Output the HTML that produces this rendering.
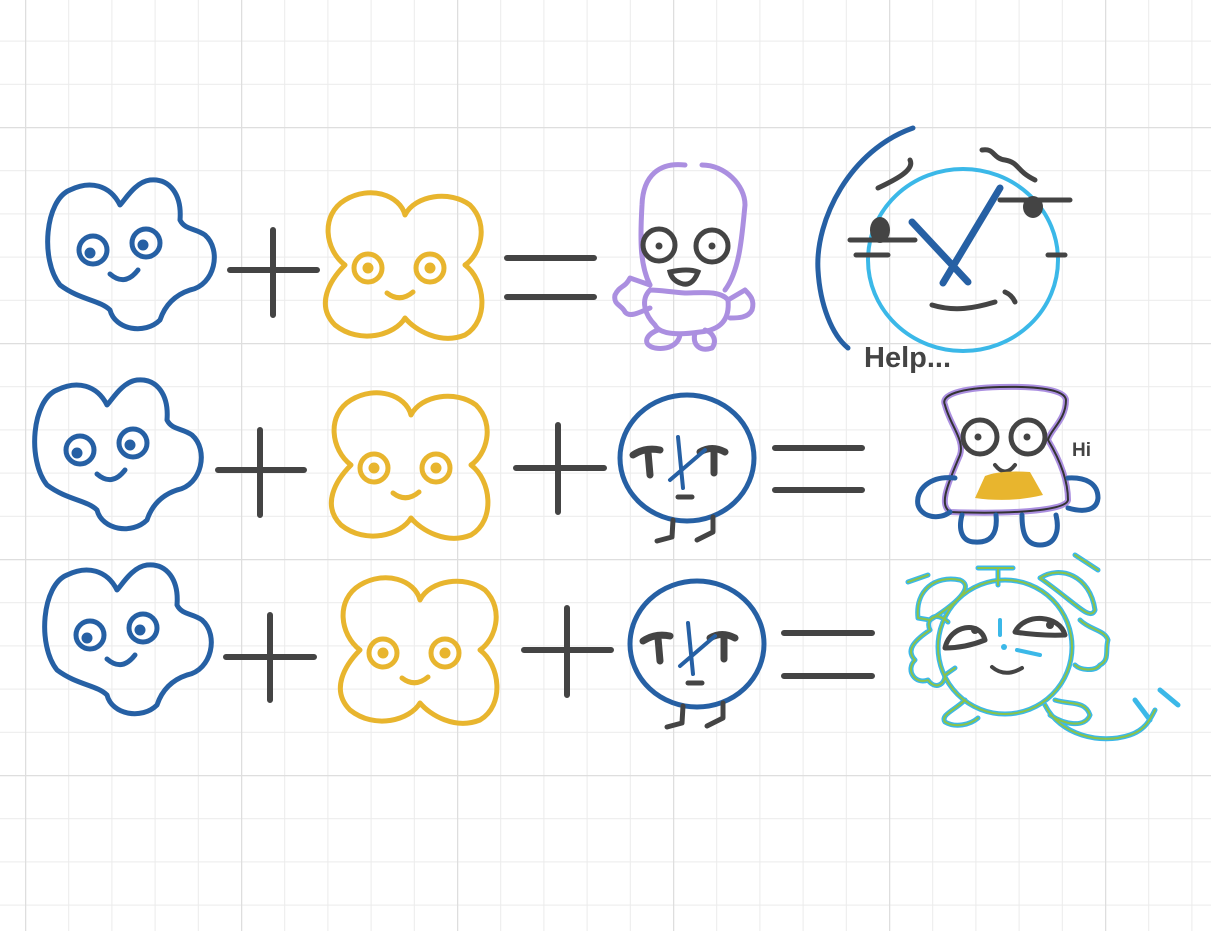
<!DOCTYPE html>
<html><head><meta charset="utf-8"><style>
html,body{margin:0;padding:0;background:#fff;}
svg{display:block;}
</style></head><body>
<svg width="1211" height="931" viewBox="0 0 1211 931" xmlns="http://www.w3.org/2000/svg">
<defs>
<pattern id="minor" x="25" y="-2.6" width="43.2" height="43.2" patternUnits="userSpaceOnUse">
<path d="M0,0 V43.2 M0,0 H43.2" stroke="#ebebeb" stroke-width="2" fill="none"/>
</pattern>
<pattern id="major" x="25" y="127" width="216" height="216" patternUnits="userSpaceOnUse">
<path d="M0,0 V216 M0,0 H216" stroke="#dedede" stroke-width="2.5" fill="none"/>
</pattern>
<g id="four" fill="none" stroke="#2660a4" stroke-width="5" stroke-linecap="round" stroke-linejoin="round">
<path d="M70,190 C45,200 40,260 60,285 C80,300 100,300 110,310 C115,330 145,335 160,320 C165,305 175,295 190,290 C215,285 222,250 205,235 C195,228 185,230 180,220 C182,195 170,178 150,180 C135,182 125,200 120,205 C110,185 90,180 70,190 Z"/>
<circle cx="93" cy="250" r="14"/><circle cx="146" cy="243" r="14"/>
<circle cx="90" cy="253" r="3" fill="#2660a4"/><circle cx="143" cy="245" r="3" fill="#2660a4"/>
<path d="M110,274 Q125,287 138,270"/>
</g>
<g id="ex" fill="none" stroke="#e8b52e" stroke-width="5" stroke-linecap="round" stroke-linejoin="round">
<path d="M345,200 C370,185 400,195 405,215 C415,195 450,190 470,205 C490,225 480,255 465,265 C485,280 490,320 465,335 C440,345 415,330 405,318 C395,335 360,345 335,325 C315,305 330,280 345,265 C325,250 320,215 345,200 Z"/>
<circle cx="368" cy="268" r="14"/><circle cx="430" cy="268" r="14"/>
<circle cx="368" cy="268" r="3" fill="#e8b52e"/><circle cx="430" cy="268" r="3" fill="#e8b52e"/>
<path d="M387,293 Q400,303 413,292"/>
</g>
<g id="ball" fill="none" stroke-linecap="round" stroke-linejoin="round">
<ellipse cx="687" cy="458" rx="67" ry="63" stroke="#2660a4" stroke-width="5"/>
<path d="M633,455 Q645,447 660,450 M648,452 L650,475 M700,452 Q712,445 725,452 M714,450 L714,473" stroke="#444" stroke-width="7"/>
<path d="M678,437 L683,488 M670,480 L705,450" stroke="#2660a4" stroke-width="4"/>
<path d="M678,497 H692" stroke="#444" stroke-width="5"/>
<path d="M673,520 L672,537 L657,541 M713,517 L713,532 L697,540" stroke="#444" stroke-width="5"/>
</g>
</defs>
<rect width="1211" height="931" fill="#fff"/>
<rect width="1211" height="931" fill="url(#minor)"/>
<rect width="1211" height="931" fill="url(#major)"/>

<use href="#four"/>
<use href="#four" transform="translate(-13,200)"/>
<use href="#four" transform="translate(-3,385)"/>
<use href="#ex"/>
<use href="#ex" transform="translate(6,200)"/>
<use href="#ex" transform="translate(15,385)"/>
<use href="#ball"/>
<use href="#ball" transform="translate(10,186)"/>

<g stroke="#444" stroke-width="6" stroke-linecap="round" fill="none">
<path d="M230,270 H317 M273,230 V315"/>
<path d="M507,258 H594 M507,297 H594"/>
<path d="M218,470 H304 M260,430 V515"/>
<path d="M516,468 H604 M558,425 V512"/>
<path d="M775,448 H862 M775,490 H862"/>
<path d="M226,657 H314 M270,615 V700"/>
<path d="M524,650 H611 M567,608 V695"/>
<path d="M784,633 H872 M784,676 H872"/>
</g>

<!-- purple creature -->
<g fill="none" stroke="#ab8fe0" stroke-width="5" stroke-linecap="round" stroke-linejoin="round">
<path d="M685,165 C660,162 643,175 642,205 C640,240 640,265 650,285 M702,165 C725,165 745,185 745,205 C742,235 740,270 725,290"/>
<path d="M650,290 C640,300 645,315 655,325 C660,335 680,335 700,332 C720,330 730,320 728,300 C720,290 700,293 685,293 C670,292 660,290 650,290"/>
<path d="M650,285 L630,278 C625,288 620,285 615,295 C613,305 622,305 625,312 C630,318 640,312 650,308"/>
<path d="M728,300 L745,290 C750,295 755,300 752,310 C748,318 738,318 730,318"/>
<path d="M658,330 C645,335 642,345 655,348 C668,350 678,345 680,335 M695,333 C692,345 700,352 712,348 C718,340 712,332 705,330"/>
</g>
<g fill="none" stroke="#444" stroke-width="5">
<circle cx="659" cy="245" r="16"/><circle cx="712" cy="246" r="16"/>
</g>
<circle cx="659" cy="246" r="3.5" fill="#444"/><circle cx="712" cy="246" r="3.5" fill="#444"/>
<path d="M670,272 Q688,268 698,272 Q692,288 680,283 Q672,280 670,272 Z" fill="none" stroke="#444" stroke-width="5"/>

<!-- big clock -->
<g fill="none" stroke-linecap="round" stroke-linejoin="round">
<ellipse cx="963" cy="260" rx="95" ry="91" stroke="#3bb8e8" stroke-width="4"/>
<path d="M913,128 C850,150 815,220 818,270 C820,305 832,335 848,348" stroke="#2660a4" stroke-width="5"/>
<path d="M912,222 L968,282 M1000,188 L943,283" stroke="#2660a4" stroke-width="7"/>
<path d="M850,240 H915 M1000,200 H1070 M856,255 H888 M1048,255 H1065 M878,188 C895,180 915,170 910,160 M982,150 C995,148 992,158 1005,160 C1020,163 1015,170 1035,180" stroke="#444" stroke-width="5"/>
<path d="M932,305 C955,312 975,308 995,302 M1005,292 Q1012,295 1015,302" stroke="#444" stroke-width="5"/>
</g>
<ellipse cx="880" cy="230" rx="10" ry="13" fill="#444"/>
<ellipse cx="1033" cy="207" rx="10" ry="11" fill="#444"/>
<text x="864" y="367" font-family="Liberation Sans, sans-serif" font-weight="bold" font-size="29" fill="#444">Help...</text>

<!-- toast -->
<g fill="none" stroke-linecap="round" stroke-linejoin="round">
<path d="M945,405 C940,395 960,388 1000,387 C1040,386 1065,390 1066,400 C1066,420 1050,430 1048,440 C1060,460 1068,480 1068,500 C1066,512 1000,514 950,512 C940,505 945,490 960,455 C965,440 950,425 945,405 Z" stroke="#ab8fe0" stroke-width="6"/>
<path d="M945,405 C940,395 960,388 1000,387 C1040,386 1065,390 1066,400 C1066,420 1050,430 1048,440 C1060,460 1068,480 1068,500 C1066,512 1000,514 950,512 C940,505 945,490 960,455 C965,440 950,425 945,405 Z" stroke="#333" stroke-width="2"/>
<path d="M955,478 C930,475 915,490 918,505 C922,518 940,520 950,512 M1068,478 C1085,477 1098,483 1098,498 C1097,510 1085,513 1068,508 M962,515 C958,530 962,542 975,542 C990,543 998,535 996,515 M1022,515 C1022,532 1025,545 1040,545 C1055,545 1060,532 1056,515" stroke="#2660a4" stroke-width="5"/>
<circle cx="980" cy="437" r="17" stroke="#444" stroke-width="5"/><circle cx="1028" cy="437" r="17" stroke="#444" stroke-width="5"/>
<path d="M995,465 Q1005,478 1015,465" stroke="#444" stroke-width="4"/>
</g>
<circle cx="978" cy="437" r="3.5" fill="#444"/><circle cx="1027" cy="437" r="3.5" fill="#444"/>
<path d="M985,476 Q1000,470 1030,472 L1043,495 Q1010,503 975,498 Z" fill="#e8b52e"/>
<text x="1072" y="456" font-family="Liberation Sans, sans-serif" font-weight="bold" font-size="19" fill="#444">Hi</text>

<!-- alarm clock -->
<g fill="none" stroke-linecap="round" stroke-linejoin="round">
<g stroke="#3bb8e8" stroke-width="5">
<circle cx="1005" cy="647" r="67"/>
<path d="M918,618 C915,590 935,575 960,580 C972,585 965,598 930,620 Z M1040,578 C1060,565 1090,575 1095,610 C1090,622 1075,602 1040,578 Z M998,570 V585 M978,568 H1013 M908,582 L928,575 M1075,555 L1098,570"/>
<path d="M948,622 C935,610 925,620 930,630 C915,640 905,650 915,660 C905,670 915,685 928,680 C935,690 945,685 945,675 L955,668 M1080,620 C1090,630 1105,630 1108,640 C1105,650 1110,660 1100,665 C1095,672 1080,670 1075,665 M965,700 C955,710 940,715 945,722 C955,728 970,725 978,718 M1055,700 C1070,705 1085,700 1090,715 C1085,728 1065,725 1050,715 M1045,705 C1060,735 1100,745 1130,735 C1145,730 1150,720 1155,710 M1135,700 L1150,720 M1160,690 L1178,705"/>
</g>
<g stroke="#8bc34a" stroke-width="2">
<circle cx="1005" cy="647" r="67"/>
<path d="M918,618 C915,590 935,575 960,580 C972,585 965,598 930,620 Z M1040,578 C1060,565 1090,575 1095,610 C1090,622 1075,602 1040,578 Z M998,570 V585 M978,568 H1013 M908,582 L928,575 M1075,555 L1098,570"/>
<path d="M948,622 C935,610 925,620 930,630 C915,640 905,650 915,660 C905,670 915,685 928,680 C935,690 945,685 945,675 L955,668 M1080,620 C1090,630 1105,630 1108,640 C1105,650 1110,660 1100,665 C1095,672 1080,670 1075,665 M965,700 C955,710 940,715 945,722 C955,728 970,725 978,718 M1055,700 C1070,705 1085,700 1090,715 C1085,728 1065,725 1050,715 M1045,705 C1060,735 1100,745 1130,735 C1145,730 1150,720 1155,710"/>
</g>
<path d="M945,648 C950,625 980,620 985,640 Q965,648 945,648 Z M1015,632 C1025,612 1060,615 1065,635 Q1040,636 1015,632 Z" stroke="#444" stroke-width="5"/>
<path d="M992,667 Q1005,678 1022,668" stroke="#444" stroke-width="4"/>
<path d="M1000,620 V635 M1017,650 L1040,655" stroke="#3bb8e8" stroke-width="4"/>
</g>
<circle cx="1004" cy="647" r="3" fill="#3bb8e8"/>
<circle cx="975" cy="630" r="4" fill="#444"/><circle cx="1050" cy="625" r="4" fill="#444"/>
</svg>
</body></html>
